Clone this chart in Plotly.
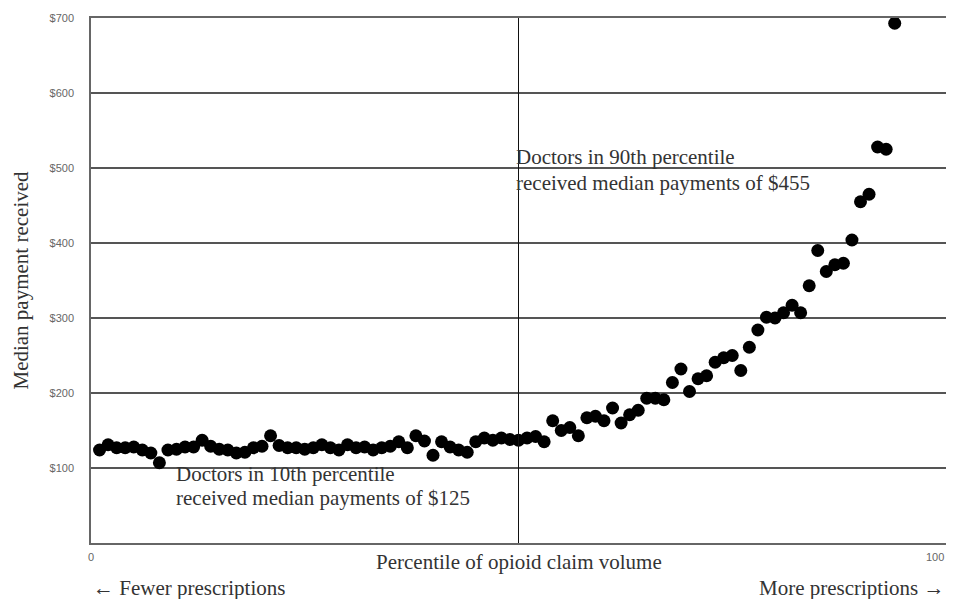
import plotly.graph_objects as go

percentiles = list(range(1, 95))
median_payment = [
    124, 131, 127, 127, 128, 124, 120, 107, 124, 125,
    128, 128, 137, 129, 125, 124, 120, 121, 127, 129,
    143, 130, 127, 127, 125, 127, 131, 127, 124, 131,
    127, 128, 124, 127, 129, 135, 127, 143, 136, 117,
    135, 128, 124, 121, 135, 140, 137, 140, 138, 137,
    140, 142, 135, 163, 150, 154, 143, 167, 169, 163,
    180, 160, 171, 177, 193, 193, 191, 214, 232, 202,
    219, 223, 241, 247, 250, 230, 261, 284, 301, 300,
    307, 317, 307, 343, 390, 362, 371, 373, 404, 455,
    465, 528, 525, 693,
]
y_ticks = [100, 200, 300, 400, 500, 600, 700]
y_tick_labels = ["$100", "$200", "$300", "$400", "$500", "$600", "$700"]
x_ticks = [0, 100]
x_tick_labels = ["0", "100"]

SERIF = "Liberation Serif, Times New Roman, serif"
SANS = "Liberation Sans, Arial, sans-serif"
TXT = dict(family=SERIF, size=21, color="#333")

fig = go.Figure()
fig.add_trace(go.Scatter(
    x=percentiles, y=median_payment, mode="markers",
    marker=dict(color="black", size=13, line=dict(width=0)),
    hoverinfo="x+y", showlegend=False,
))

fig.add_shape(type="line", xref="x", yref="y", x0=50, x1=50, y0=0, y1=700,
              line=dict(color="#111", width=1))

# x tick labels drawn as annotations so the right-hand one is not clipped
tick_annotations = [
    dict(text=t, xref="x", yref="paper", x=v, y=-0.027,
         xanchor=("center" if v < 100 else "right"), yanchor="middle",
         showarrow=False, font=dict(family=SANS, size=11, color="#666"))
    for v, t in zip(x_ticks, x_tick_labels)
]

fig.update_layout(
    width=950, height=591,
    margin=dict(l=83, r=12, t=10, b=56, autoexpand=False),
    paper_bgcolor="white", plot_bgcolor="white",
    xaxis=dict(range=[0, 100], tickvals=x_ticks, ticktext=["", ""],
               showgrid=False, zeroline=False, showline=True,
               linecolor="#666", linewidth=1.5, mirror=True,
               ticks="", automargin=False),
    yaxis=dict(range=[0, 700], tickvals=y_ticks, ticktext=y_tick_labels,
               showgrid=True, gridcolor="#555", gridwidth=1.5,
               zeroline=False, showline=True, linecolor="#666", linewidth=1.5,
               ticks="", ticklabelstandoff=13, automargin=False,
               tickfont=dict(family=SANS, size=11, color="#666")),
    annotations=tick_annotations + [
        dict(text="Median payment received", xref="paper", yref="paper",
             x=-0.083, y=0.5, xanchor="center", yanchor="middle",
             textangle=-90, showarrow=False, font=TXT),
        dict(text="Percentile of opioid claim volume", xref="paper", yref="paper",
             x=0.5, y=-0.036, xanchor="center", yanchor="middle",
             showarrow=False, font=TXT),
        dict(text="← Fewer prescriptions", xref="paper", yref="paper",
             x=0, y=-0.086, xanchor="left", yanchor="middle",
             showarrow=False, font=TXT),
        dict(text="More prescriptions →", xref="paper", yref="paper",
             x=1, y=-0.086, xanchor="right", yanchor="middle",
             showarrow=False, font=TXT),
        dict(text="Doctors in 10th percentile", xref="x", yref="y",
             x=9.8, y=92, xanchor="left", yanchor="middle", borderpad=0,
             showarrow=False, font=TXT),
        dict(text="received median payments of $125", xref="x", yref="y",
             x=9.8, y=60, xanchor="left", yanchor="middle", borderpad=0,
             showarrow=False, font=TXT),
        dict(text="Doctors in 90th percentile", xref="x", yref="y",
             x=49.6, y=515, xanchor="left", yanchor="middle", borderpad=0,
             showarrow=False, font=TXT),
        dict(text="received median payments of $455", xref="x", yref="y",
             x=49.6, y=480, xanchor="left", yanchor="middle", borderpad=0,
             showarrow=False, font=TXT),
    ],
)

fig.write_html("out.html")
